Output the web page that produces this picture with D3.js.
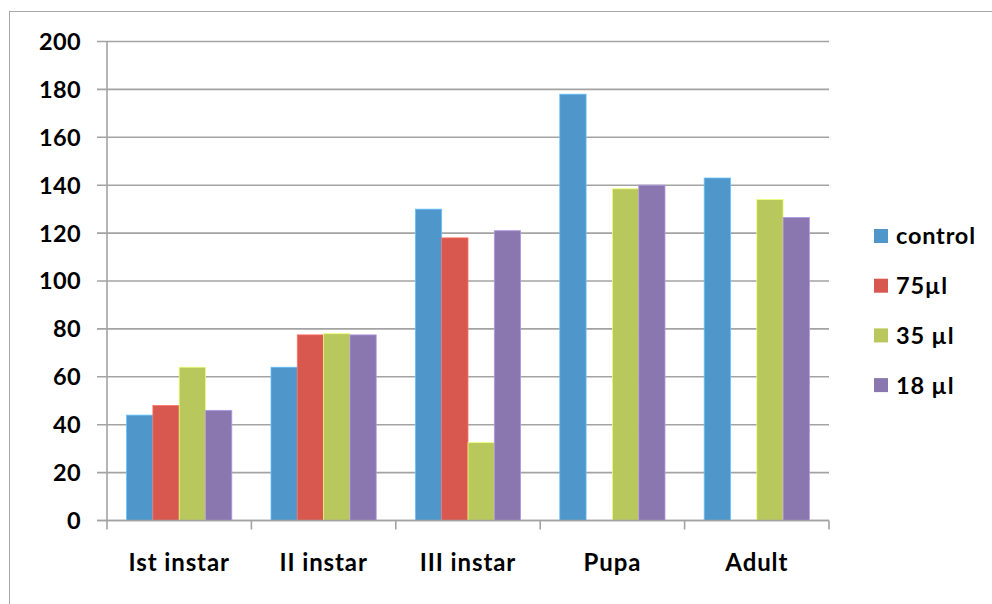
<!DOCTYPE html>
<html>
<head>
<meta charset="utf-8">
<script src="https://cdn.jsdelivr.net/npm/d3@7"></script>
<style>
  body { margin: 0; background: #fff; }
  svg text { font-family: Lato, "Open Sans", sans-serif; font-weight: bold; fill: #000; }
</style>
</head>
<body>
<div id="chart"></div>
<script>
var stages = ["Ist instar", "II instar", "III instar", "Pupa", "Adult"];
var seriesNames = ["control", "75\u00b5l", "35 \u00b5l", "18 \u00b5l"];
var control = [44, 64, 130, 178, 143];
var dose75 = [48, 77.5, 118, null, null];
var dose35 = [64, 78, 32.5, 138.5, 134];
var dose18 = [46, 77.5, 121, 140, 126.5];
var yTicks = [0, 20, 40, 60, 80, 100, 120, 140, 160, 180, 200];
var colors = ["#4f96ca", "#d8574f", "#b8c85c", "#8b77b0"];

var allSeries = [control, dose75, dose35, dose18];

var width = 992, height = 604;
var svg = d3.select("#chart").append("svg")
    .attr("width", width)
    .attr("height", height);

// outer chart frame
svg.append("rect")
    .attr("x", 9.5).attr("y", 11.5)
    .attr("width", 1000).attr("height", 700)
    .attr("fill", "none")
    .attr("stroke", "#a8a8a8");

var x0 = d3.scaleBand().domain(stages).range([107, 829]);
var x1 = d3.scaleBand().domain(seriesNames).range([0, x0.bandwidth()]).paddingOuter(0.745);
var y = d3.scaleLinear().domain([0, 200]).range([520.5, 41.5]);

// gridlines
svg.append("g")
    .selectAll("line")
    .data(yTicks)
    .enter().append("line")
    .attr("x1", 97).attr("x2", 829)
    .attr("y1", function (d) { return y(d); })
    .attr("y2", function (d) { return y(d); })
    .attr("stroke", "#a3a3a3")
    .attr("stroke-width", 1.6);

// y labels
svg.append("g")
    .selectAll("text")
    .data(yTicks)
    .enter().append("text")
    .attr("x", 81)
    .attr("y", function (d) { return y(d); })
    .attr("dy", "0.36em")
    .attr("text-anchor", "end")
    .style("font-size", "23.5px")
    .style("letter-spacing", "0.4px")
    .text(function (d) { return d; });

// bars
var groups = svg.append("g")
    .selectAll("g")
    .data(stages)
    .enter().append("g")
    .attr("transform", function (d) { return "translate(" + x0(d) + ",0)"; });

groups.selectAll("rect")
    .data(function (d, i) {
        return seriesNames.map(function (s, j) { return { key: s, j: j, value: allSeries[j][i] }; })
            .filter(function (e) { return e.value != null; });
    })
    .enter().append("rect")
    .attr("x", function (d) { return x1(d.key); })
    .attr("width", x1.bandwidth())
    .attr("y", function (d) { return y(d.value); })
    .attr("height", function (d) { return y(0) - y(d.value); })
    .attr("fill", function (d) { return colors[d.j]; })
    .attr("stroke", function (d) { return d3.color(colors[d.j]).brighter(0.7); })
    .attr("stroke-width", 0.8);

// axes lines
svg.append("line")
    .attr("x1", 107).attr("x2", 107)
    .attr("y1", y(200)).attr("y2", y(0))
    .attr("stroke", "#a3a3a3").attr("stroke-width", 1.6);
svg.append("line")
    .attr("x1", 97).attr("x2", 829)
    .attr("y1", y(0)).attr("y2", y(0))
    .attr("stroke", "#a3a3a3").attr("stroke-width", 1.6);

// category ticks
var bounds = stages.map(function (d) { return x0(d); }).concat([x0.range()[1]]);
svg.append("g")
    .selectAll("line")
    .data(bounds)
    .enter().append("line")
    .attr("x1", function (d) { return d; }).attr("x2", function (d) { return d; })
    .attr("y1", y(0)).attr("y2", y(0) + 9)
    .attr("stroke", "#a3a3a3").attr("stroke-width", 1.6);

svg.append("g")
    .selectAll("text")
    .data(stages)
    .enter().append("text")
    .attr("x", function (d) { return x0(d) + x0.bandwidth() / 2; })
    .attr("y", 571)
    .attr("text-anchor", "middle")
    .style("font-size", "24px")
    .style("letter-spacing", "0.9px")
    .text(function (d) { return d; });

// legend
var legend = svg.append("g")
    .selectAll("g")
    .data(seriesNames)
    .enter().append("g")
    .attr("transform", function (d, i) { return "translate(874," + (236 + i * 49.7) + ")"; });
legend.append("rect")
    .attr("x", 0).attr("y", -7)
    .attr("width", 14).attr("height", 14)
    .attr("fill", function (d, i) { return colors[i]; });
legend.append("text")
    .attr("x", 22).attr("y", 0)
    .attr("dy", "0.36em")
    .style("font-size", "23.5px")
    .style("letter-spacing", "0.8px")
    .text(function (d) { return d; });
</script>
</body>
</html>
